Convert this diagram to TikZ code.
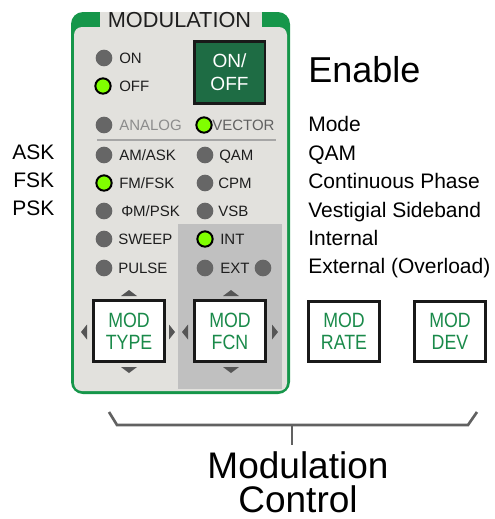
\documentclass[tikz,border=0pt]{standalone}
\usepackage{fontspec}
\setmainfont{Liberation Sans}
\newfontfamily\narrowfont[FakeStretch=0.86]{Liberation Sans}
\definecolor{panelgray}{RGB}{226,225,221}
\definecolor{shadegray}{RGB}{192,192,192}
\definecolor{bordergreen}{RGB}{22,150,74}
\definecolor{btngreen}{RGB}{30,108,68}
\definecolor{ledgray}{RGB}{102,102,102}
\definecolor{ledlime}{RGB}{128,255,0}
\definecolor{txtgreen}{RGB}{26,138,74}
\definecolor{tridark}{RGB}{85,85,85}
\definecolor{panelink}{RGB}{30,30,30}
\tikzset{
  ledoff/.style={circle,fill=ledgray,inner sep=0pt,minimum size=12.5pt},
  ledon/.style={circle,fill=ledlime,draw=black,line width=1.5pt,inner sep=0pt,minimum size=11.5pt},
  ptext/.style={anchor=base west,inner sep=0pt,font=\fontsize{11.25pt}{13pt}\selectfont,text=panelink},
  rtext/.style={anchor=base west,inner sep=0pt,font=\fontsize{15.75pt}{18pt}\selectfont},
  modbox/.style={draw=black!90,line width=2.2pt,fill=white,minimum width=53pt,minimum height=45.5pt,inner sep=0pt,align=center,text=txtgreen,font=\narrowfont\fontsize{15.5pt}{16.5pt}\selectfont},
  tri/.style={fill=tridark},
}
\begin{document}
\begin{tikzpicture}[x=0.75pt,y=-0.75pt]
\useasboundingbox (0,0) rectangle (494,519);
% panel
\fill[bordergreen,rounded corners=9pt] (71,12) rectangle (290,394);
\fill[panelgray,rounded corners=6pt] (74,27) rectangle (287,391);
\fill[panelgray] (100,12) rectangle (262,28);
\fill[shadegray] (178,224) rectangle (282,389);
\node[inner sep=0pt,anchor=base,font=\fontsize{16.3pt}{18pt}\selectfont,text=panelink] (title) at (179.5,27) {MODULATION};
% on/off
\node[ledoff] (ledon) at (104,58) {};
\node[ptext] (ton) at (119,63) {ON};
\node[ledon] (ledoffl) at (103,86) {};
\node[ptext] (toff) at (119,91) {OFF};
\node[draw=black!90,line width=2pt,fill=btngreen,minimum width=53pt,minimum height=46.5pt,inner sep=0pt,align=center,text=white,font=\fontsize{14.3pt}{17pt}\selectfont] (onoff) at (229.5,72.5) {ON/\\OFF};
% analog/vector
\node[ledoff] (lanalog) at (104,125) {};
\node[ptext,text=black!45] (tanalog) at (119,130.5) {ANALOG};
\node[ledon] (lvector) at (204,125) {};
\node[ptext,text=black!62] (tvector) at (212,130.5) {VECTOR};
\coordinate (sepl) at (97,140);
\coordinate (sepr) at (276,140);
\draw[black!35,line width=1.1pt] (sepl) -- (sepr);
% rows
\node[ledoff] (l1) at (104,155) {};
\node[ptext] (t1) at (119,160.5) {AM/ASK};
\node[ledoff] (r1) at (205,155) {};
\node[ptext] (u1) at (219,160.5) {QAM};
\node[ledon] (l2) at (104,183) {};
\node[ptext] (t2) at (119,188.5) {FM/FSK};
\node[ledoff] (r2) at (205,183) {};
\node[ptext] (u2) at (218,188.5) {CPM};
\node[ledoff] (l3) at (104,211) {};
\node[ptext] (t3) at (121,216.5) {ΦM/PSK};
\node[ledoff] (r3) at (205,211) {};
\node[ptext] (u3) at (218,216.5) {VSB};
\node[ledoff] (l4) at (104,239) {};
\node[ptext] (t4) at (118,244.5) {SWEEP};
\node[ledon] (r4) at (205,239) {};
\node[ptext] (u4) at (220,244.5) {INT};
\node[ledoff] (l5) at (104,268) {};
\node[ptext] (t5) at (118,273.5) {PULSE};
\node[ledoff] (r5) at (205,268) {};
\node[ptext] (u5) at (220,273.5) {EXT};
\node[ledoff] (r5b) at (263,268) {};
% mod boxes
\node[modbox] (mtype) at (129,331) {MOD\\TYPE};
\node[modbox] (mfcn) at (230,331) {MOD\\FCN};
\node[modbox] (mrate) at (344,331.5) {MOD\\RATE};
\node[modbox] (mdev) at (450,331.5) {MOD\\DEV};
% triangles
\foreach \cx in {129,231}{
  \fill[tri] (\cx-8,296) -- (\cx+8,296) -- (\cx,290) -- cycle;
  \fill[tri] (\cx-8,367) -- (\cx+8,367) -- (\cx,373) -- cycle;
}
\foreach \lx/\rx in {81/169,182/272}{
  \fill[tri] (\lx+6,324.5) -- (\lx+6,339.5) -- (\lx,332) -- cycle;
  \fill[tri] (\rx,324.5) -- (\rx,339.5) -- (\rx+6,332) -- cycle;
}
% left labels
\node[rtext] (ask) at (12,159) {ASK};
\node[rtext] (fsk) at (13,187) {FSK};
\node[rtext] (psk) at (12,215) {PSK};
% right labels
\node[anchor=base west,inner sep=0pt,font=\fontsize{27pt}{30pt}\selectfont] (enable) at (308,82) {Enable};
\node[rtext] (mode) at (308,131) {Mode};
\node[rtext] (qam) at (308,160) {QAM};
\node[rtext] (cph) at (308,188) {Continuous Phase};
\node[rtext] (vsb) at (308,217) {Vestigial Sideband};
\node[rtext] (internal) at (308,245) {Internal};
\node[rtext] (external) at (308,273) {External (Overload)};
% brace
\coordinate (b1) at (109,412);
\coordinate (b2) at (117,425);
\coordinate (b3) at (468,425);
\coordinate (b4) at (477,412);
\coordinate (bm) at (292,425);
\coordinate (bt) at (292,445);
\draw[black!62,line width=2pt,line join=miter] (b1) -- (b2) -- (b3) -- (b4);
\draw[black!62,line width=2pt] (bm) -- (bt);
\node[anchor=base,inner sep=0pt,font=\fontsize{27.75pt}{27pt}\selectfont] (mc1) at (298,478) {Modulation};
\node[anchor=base,inner sep=0pt,font=\fontsize{27.75pt}{27pt}\selectfont] (mc2) at (298,512) {Control};
\end{tikzpicture}
\end{document}
